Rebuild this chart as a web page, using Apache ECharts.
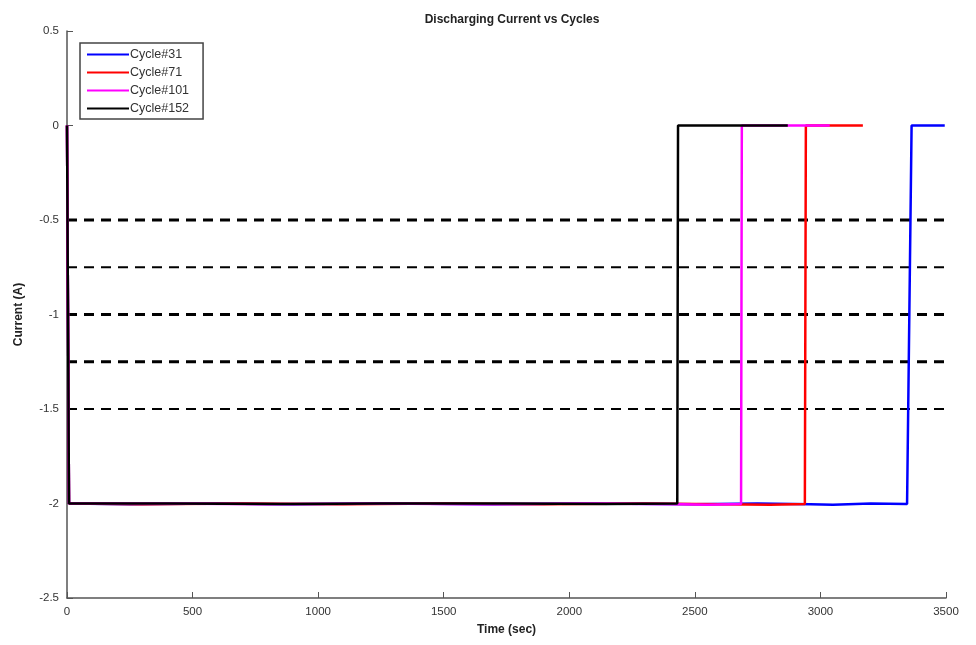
<!DOCTYPE html>
<html><head><meta charset="utf-8">
<script src="https://cdn.jsdelivr.net/npm/echarts@6/dist/echarts.min.js"></script>
<style>html,body{margin:0;padding:0;background:#fff}#c{width:976px;height:645px}</style>
</head><body><div id="c"></div>
<script>
const titleText = 'Discharging Current vs Cycles';
const xName = 'Time (sec)';
const yName = 'Current (A)';
const seriesNames = ['Cycle#31', 'Cycle#71', 'Cycle#101', 'Cycle#152'];
const seriesColors = ['#0000ff', '#ff0000', '#ff00ff', '#000000'];
const cycle31 = [[0,0],[8,-2.0],[250,-2.004],[600,-2.0],[900,-2.004],[1300,-2.0],[1700,-2.004],[2100,-2.0],[2500,-2.004],[2750,-2.0],[2960,-2.004],[3050,-2.006],[3200,-2.0],[3345,-2.003],[3363,0],[3420,0],[3495,0]];
const cycle71 = [[0,0],[8,-2.0],[300,-2.004],[700,-2.0],[1100,-2.004],[1500,-2.0],[1900,-2.004],[2300,-2.0],[2600,-2.004],[2800,-2.006],[2938,-2.003],[2942,0],[3050,0],[3169,0]];
const cycle101 = [[0,0],[8,-2.0],[350,-2.0],[800,-2.004],[1200,-2.0],[1650,-2.004],[2050,-2.0],[2450,-2.004],[2550,-2.006],[2684,-2.003],[2687,0],[2850,0],[3037,0]];
const cycle152 = [[0,0],[8,-2.0],[400,-2.0],[850,-2.003],[1250,-2.0],[1750,-2.0],[2150,-2.003],[2430,-2.0],[2433,0],[2650,0],[2870,0]];
const seriesData = [cycle31, cycle71, cycle101, cycle152];
const refLevels = [-0.5, -0.75, -1, -1.25, -1.5];
const refWidths = [3, 2, 3, 3, 2];

const series = seriesNames.map((n, i) => ({
  name: n, type: 'line', data: seriesData[i], showSymbol: false, symbol: 'none',
  lineStyle: { color: seriesColors[i], width: 2.5 }, itemStyle: { color: seriesColors[i] },
  z: 3 + i, animation: false
}));
refLevels.forEach((v, i) => {
  series.push({
    name: 'ref' + i, type: 'line', data: [[0, v], [3500, v]], symbol: 'none', silent: true,
    lineStyle: { color: '#000', width: refWidths[i], type: [10, 7] }, z: 2, animation: false
  });
});

const chart = echarts.init(document.getElementById('c'));
chart.setOption({
  animation: false,
  backgroundColor: '#fff',
  textStyle: { fontFamily: 'Liberation Sans' },
  title: { text: titleText, left: 507, textAlign: 'center', top: 9,
    textStyle: { fontSize: 12, fontWeight: 'bold', color: '#222', fontFamily: 'Liberation Sans' } },
  legend: {
    data: seriesNames, orient: 'vertical', left: 80, top: 43,
    backgroundColor: '#fff', borderColor: '#444', borderWidth: 1.5, borderRadius: 0,
    padding: [5, 14, 4, 7], itemGap: 5, itemWidth: 42, itemHeight: 2, icon: 'rect',
    textStyle: { fontSize: 12.5, color: '#333', padding: [0, 0, 0, -4] }
  },
  grid: { left: 67, right: 30, top: 31, bottom: 47 },
  xAxis: {
    type: 'value', min: 0, max: 3500, interval: 500,
    name: xName, nameLocation: 'middle', nameGap: 26,
    nameTextStyle: { fontSize: 12, fontWeight: 'bold', color: '#222' },
    axisLine: { onZero: false, lineStyle: { color: '#555', width: 1.5 } },
    axisTick: { inside: true, length: 6, lineStyle: { color: '#555' } },
    axisLabel: { fontSize: 11.5, color: '#333', margin: 8, formatter: v => String(v) },
    splitLine: { show: false }
  },
  yAxis: {
    type: 'value', min: -2.5, max: 0.5, interval: 0.5,
    name: yName, nameLocation: 'middle', nameGap: 42,
    nameTextStyle: { fontSize: 12, fontWeight: 'bold', color: '#222' },
    axisLine: { onZero: false, lineStyle: { color: '#555', width: 1.5 } },
    axisTick: { inside: true, length: 6, lineStyle: { color: '#555' } },
    axisLabel: { fontSize: 11.5, color: '#333', margin: 8 },
    splitLine: { show: false }
  },
  series: series
});
</script></body></html>
